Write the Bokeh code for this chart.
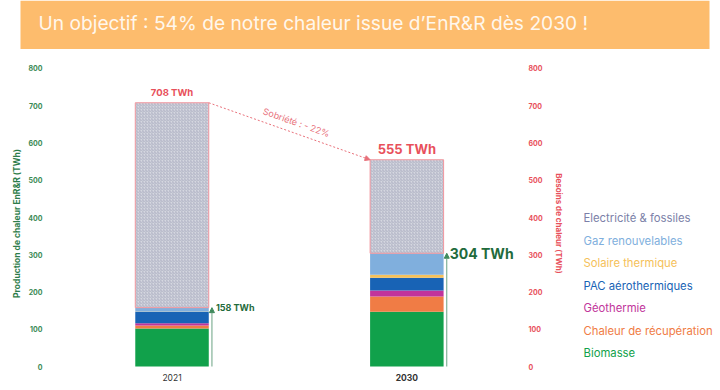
from bokeh.plotting import figure
from bokeh.models import (Range1d, LinearAxis, FixedTicker, Arrow, NormalHead,
                          ColumnDataSource)
from bokeh.layouts import column, row
from bokeh.core.properties import value
from bokeh.embed import file_html
from bokeh.resources import INLINE
import math

# ---------------- data ----------------
years = ["2021", "2030"]
xpos = [0, 1]
biomasse = [102, 147]
recuperation = [8, 41]
geothermie = [6, 16]
pac = [31, 34]
solaire = [1, 8]
gaz = [10, 58]
besoins = [708, 555]
y_ticks = [0, 100, 200, 300, 400, 500, 600, 700, 800]
legend_labels = ["Electricité & fossiles", "Gaz renouvelables", "Solaire thermique",
                 "PAC aérothermiques", "Géothermie", "Chaleur de récupération", "Biomasse"]
title_text = "Un objectif : 54% de notre chaleur issue d\u2019EnR&R dès 2030 !"
sobriete_text = "Sobriété : - 22%"

renew = [sum(v) for v in zip(biomasse, recuperation, geothermie, pac, solaire, gaz)]

FONT = value("Inter")
GREEN_TXT = "#1f6b3c"
RED = "#e8505b"
stack_keys = ["biomasse", "recuperation", "geothermie", "pac", "solaire", "gaz"]
stack_colors = ["#11a14b", "#f07c45", "#c1349b", "#1863b5", "#f5c15a", "#80afdd"]
legend_colors = ["#7b7fa8", "#80afdd", "#f5c15a", "#1863b5", "#c1349b", "#f07c45", "#11a14b"]

src = ColumnDataSource(dict(x=xpos, biomasse=biomasse, recuperation=recuperation,
                            geothermie=geothermie, pac=pac, solaire=solaire, gaz=gaz,
                            renew=renew, besoins=besoins))

# ---------------- banner ----------------
ban = figure(width=720, height=49, x_range=Range1d(0, 720), y_range=Range1d(0, 49),
             output_backend="svg", toolbar_location=None, x_axis_location=None,
             y_axis_location=None, min_border=0, outline_line_color=None)
ban.grid.visible = False
ban.quad(left=[20], right=[709], bottom=[0], top=[49], fill_color="#fdbc6d", line_color=None)
ban.text(x=[38], y=[27], text=[title_text], text_font=FONT, text_font_size="19.2px",
         text_color="#fff7ec", text_baseline="middle", text_align="left")

# ---------------- main chart ----------------
W = 0.313
p = figure(width=576, height=341, x_range=Range1d(-0.509, 1.484),
           y_range=Range1d(-64.4, 832.2), output_backend="svg", toolbar_location=None,
           x_axis_location=None, y_axis_location=None,
           min_border_left=52, min_border_right=56, min_border_top=7, min_border_bottom=0,
           outline_line_color=None)
p.grid.visible = False

p.vbar_stack(stack_keys, x="x", width=W, color=stack_colors, source=src, line_color=None)
p.vbar(x="x", bottom="renew", top="besoins", width=W, source=src,
       fill_color="#d5d7e0", hatch_pattern="/", hatch_color="#b3b6c6", hatch_scale=3,
       hatch_weight=1, line_color="#f3979e", line_width=1)

# left axis
la = LinearAxis(ticker=FixedTicker(ticks=y_ticks), axis_label="Production de chaleur EnR&R (TWh)")
la.axis_line_color = None
la.major_tick_line_color = None
la.minor_tick_line_color = None
la.major_label_standoff = 4
la.major_label_text_font = "Inter"
la.major_label_text_font_style = "bold"
la.major_label_text_font_size = "7px"
la.major_label_text_color = "#3a8a55"
la.axis_label_text_font = "Inter"
la.axis_label_text_font_style = "bold"
la.axis_label_text_font_size = "8.5px"
la.axis_label_text_color = "#2e7d4a"
la.axis_label_standoff = 3
p.add_layout(la, "left")

ra = LinearAxis(ticker=FixedTicker(ticks=y_ticks), axis_label="Besoins de chaleur (TWh)")
ra.axis_line_color = None
ra.major_tick_line_color = None
ra.minor_tick_line_color = None
ra.major_label_standoff = 2
ra.major_label_text_font = "Inter"
ra.major_label_text_font_style = "bold"
ra.major_label_text_font_size = "7px"
ra.major_label_text_color = RED
ra.axis_label_text_font = "Inter"
ra.axis_label_text_font_style = "bold"
ra.axis_label_text_font_size = "8px"
ra.axis_label_text_color = RED
ra.axis_label_standoff = 8
p.add_layout(ra, "right")

# green arrows (renewable totals)
for xv, tv in zip(xpos, renew):
    p.add_layout(Arrow(end=NormalHead(size=5, fill_color="#3f8a5c", line_color="#3f8a5c"),
                       x_start=xv + 0.17, y_start=0, x_end=xv + 0.17, y_end=tv,
                       line_color="#6aa383", line_width=1))

# red dotted sobriety arrow
p.add_layout(Arrow(end=NormalHead(size=5, fill_color="#e8707a", line_color="#e8707a"),
                   x_start=xpos[0] + W / 2, y_start=besoins[0],
                   x_end=xpos[1] - W / 2, y_end=besoins[1],
                   line_color="#e8707a", line_width=1, line_dash="2 2"))

# sobriety label
sx0, sx1 = 208, 369
sy0, sy1 = 102, 159
ang = -math.atan2(sy1 - sy0, sx1 - sx0)
p.text(x=[(xpos[0] + xpos[1]) / 2 + 0.03], y=[(besoins[0] + besoins[1]) / 2],
       text=[sobriete_text], angle=ang, text_font=FONT, text_font_size="9px",
       text_color="#e8707a", text_align="center", text_baseline="middle", y_offset=-9)

# total needs labels
p.text(x=[xpos[0]], y=[besoins[0]], text=[f"{besoins[0]} TWh"], text_font=FONT,
       text_font_size="9.5px", text_font_style="bold", text_color=RED,
       text_align="center", text_baseline="middle", y_offset=-10)
p.text(x=[xpos[1]], y=[besoins[1]], text=[f"{besoins[1]} TWh"], text_font=FONT,
       text_font_size="13px", text_font_style="bold", text_color=RED,
       text_align="center", text_baseline="middle", y_offset=-11)

# renewable labels
p.text(x=[xpos[0] + 0.17], y=[renew[0]], text=[f"{renew[0]} TWh"], text_font=FONT,
       text_font_size="9px", text_font_style="bold", text_color=GREEN_TXT,
       text_align="left", text_baseline="middle", x_offset=4)
p.text(x=[xpos[1] + 0.17], y=[renew[1]], text=[f"{renew[1]} TWh"], text_font=FONT,
       text_font_size="14px", text_font_style="bold", text_color=GREEN_TXT,
       text_align="left", text_baseline="middle", x_offset=3)

# year labels
p.text(x=[xpos[0]], y=[0], text=[years[0]], text_font=FONT, text_font_size="8.5px",
       text_color="#333333", text_align="center", text_baseline="middle", y_offset=11)
p.text(x=[xpos[1]], y=[0], text=[years[1]], text_font=FONT, text_font_size="8.5px",
       text_font_style="bold", text_color="#333333", text_align="center",
       text_baseline="middle", y_offset=11)

# ---------------- legend panel ----------------
lg = figure(width=144, height=341, x_range=Range1d(0, 144), y_range=Range1d(341, 0),
            output_backend="svg", toolbar_location=None, x_axis_location=None,
            y_axis_location=None, min_border=0, outline_line_color=None)
lg.grid.visible = False
ly = [165 + i * 23 for i in range(len(legend_labels))]
lg.text(x=[7] * len(legend_labels), y=ly, text=legend_labels, text_color=legend_colors,
        text_font=FONT, text_font_size="11.3px", text_align="left", text_baseline="middle")

layout = column(ban, row(p, lg))
open("out.html", "w").write(file_html(layout, INLINE))
